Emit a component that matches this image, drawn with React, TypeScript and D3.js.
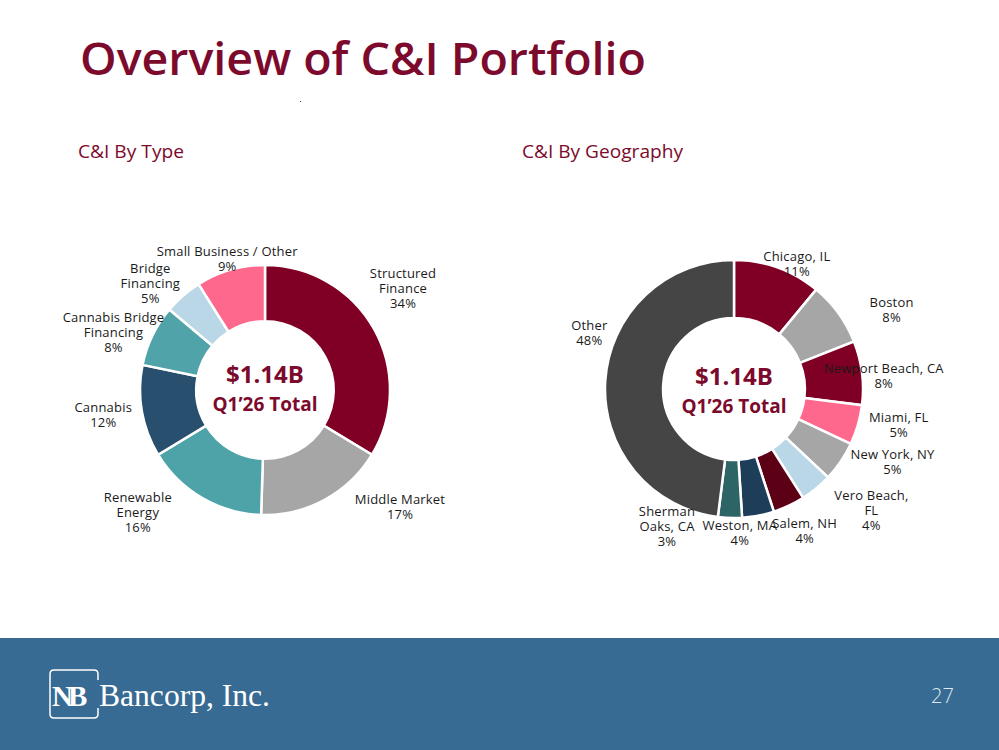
import * as d3 from "d3";

// C&I by type
const typeLabels = [
  ["Structured", "Finance"],
  ["Middle Market"],
  ["Renewable", "Energy"],
  ["Cannabis"],
  ["Cannabis Bridge", "Financing"],
  ["Bridge", "Financing"],
  ["Small Business / Other"],
];
const typeValues = [34, 17, 16, 12, 8, 5, 9];
const typeColors = ["#7f0024", "#a6a6a6", "#4ea3a8", "#284f6d", "#50a3a8", "#b9d7e6", "#ff688d"];
// manual label nudges from the arc label point (like hand-placed ppt labels)
const typeNudges = [[3, -26], [61, -20], [-49, -12], [-9, -2], [-12, 10], [-13, 10], [5, 17]];

// C&I by geography
const geoLabels = [
  ["Chicago, IL"],
  ["Boston"],
  ["Newport Beach, CA"],
  ["Miami, FL"],
  ["New York, NY"],
  ["Vero Beach,", "FL"],
  ["Salem, NH"],
  ["Weston, MA"],
  ["Sherman", "Oaks, CA"],
  ["Other"],
];
const geoValues = [11, 8, 8, 5, 5, 4, 4, 4, 3, 48];
const geoColors = ["#7f0024", "#a6a6a6", "#7f0024", "#ff688d", "#a6a6a6", "#b9d7e6", "#5c0016", "#1e3d58", "#2d6466", "#454546"];
const geoNudges = [[9, 24], [29, 14], [-8, 6], [12, -9], [27, -17], [36, -2], [3, -2], [-24, -13], [-62, -22], [14, -47]];

const totalText = "$1.14B";
const periodText = "Q1\u201926 Total";

const CRIMSON = "#7c0a2c";
const LABEL_FONT = "'Open Sans', 'Noto Sans', sans-serif";

type DonutProps = {
  cx: number;
  cy: number;
  r: number;
  labels: string[][];
  values: number[];
  colors: string[];
  nudges: number[][];
  totalDy: number;
};

function Donut({ cx, cy, r, labels, values, colors, nudges, totalDy }: DonutProps) {
  const pie = d3.pie<number>().sort(null).value((d) => d);
  const arcs = pie(values);
  const arc = d3.arc<d3.PieArcDatum<number>>().innerRadius(r * 0.55).outerRadius(r);
  const labelArc = d3.arc<d3.PieArcDatum<number>>().innerRadius(r + 30).outerRadius(r + 30);

  return (
    <g transform={`translate(${cx},${cy})`}>
      {arcs.map((a, i) => (
        <path key={i} d={arc(a) || ""} fill={colors[i]} stroke="#fff" strokeWidth={2.5} />
      ))}
      {arcs.map((a, i) => {
        const [lx, ly] = labelArc.centroid(a);
        const x = lx + nudges[i][0];
        const y = ly + nudges[i][1];
        const lines = [...labels[i], `${values[i]}%`];
        return (
          <text key={"l" + i} x={x} y={y} textAnchor="middle" fontFamily={LABEL_FONT} fontWeight={500} fontSize={13} letterSpacing={0.2} fill="#1a1a1a">
            {lines.map((t, j) => (
              <tspan key={j} x={x} y={y + (j - (lines.length - 1) / 2) * 15} dominantBaseline="central">
                {t}
              </tspan>
            ))}
          </text>
        );
      })}
      <text y={totalDy} textAnchor="middle" fontFamily={LABEL_FONT} fontWeight={700} fontSize={24} fill={CRIMSON}>
        {totalText}
      </text>
      <text y={totalDy + 28} textAnchor="middle" fontFamily={LABEL_FONT} fontWeight={700} fontSize={19} fill={CRIMSON}>
        {periodText}
      </text>
    </g>
  );
}

export default function App() {
  return (
    <svg width={999} height={750} style={{ position: "absolute", left: 0, top: 0, background: "#fff" }}>
      <text x={80} y={75} fontFamily={LABEL_FONT} fontWeight={600} fontSize={45} fill={CRIMSON} textLength={566} lengthAdjust="spacingAndGlyphs">
        Overview of C&amp;I Portfolio
      </text>
      <rect x={300} y={101} width={1} height={1} fill="#444" />

      <text x={78} y={158} fontFamily={LABEL_FONT} fontSize={18} fill={CRIMSON} textLength={106} lengthAdjust="spacingAndGlyphs">
        C&amp;I By Type
      </text>
      <text x={522} y={158} fontFamily={LABEL_FONT} fontSize={18} fill={CRIMSON} textLength={161} lengthAdjust="spacingAndGlyphs">
        C&amp;I By Geography
      </text>

      <Donut cx={265} cy={390} r={125} labels={typeLabels} values={typeValues} colors={typeColors} nudges={typeNudges} totalDy={-7} />
      <Donut cx={734} cy={389} r={129} labels={geoLabels} values={geoValues} colors={geoColors} nudges={geoNudges} totalDy={-4} />

      {/* footer band */}
      <rect x={0} y={638} width={999} height={112} fill="#376b93" />
      <path
        d="M98,680 V674 Q98,670 94,670 H54 Q50,670 50,674 V714 Q50,718 54,718 H94 Q98,718 98,714 V708"
        fill="none"
        stroke="#fff"
        strokeWidth={1.5}
      />
      <text x={52} y={706} fontFamily="'Liberation Serif', 'DejaVu Serif', serif" fontWeight={700} fontSize={29} fill="#fff" letterSpacing={-5}>
        NB
      </text>
      <text x={99} y={706} fontFamily="'Liberation Serif', 'DejaVu Serif', serif" fontSize={31} fill="#fff" textLength={171} lengthAdjust="spacingAndGlyphs">
        Bancorp, Inc.
      </text>
      <text x={931} y={703} fontFamily={LABEL_FONT} fontWeight={300} fontSize={20} fill="#dfe8f0">
        27
      </text>
    </svg>
  );
}
